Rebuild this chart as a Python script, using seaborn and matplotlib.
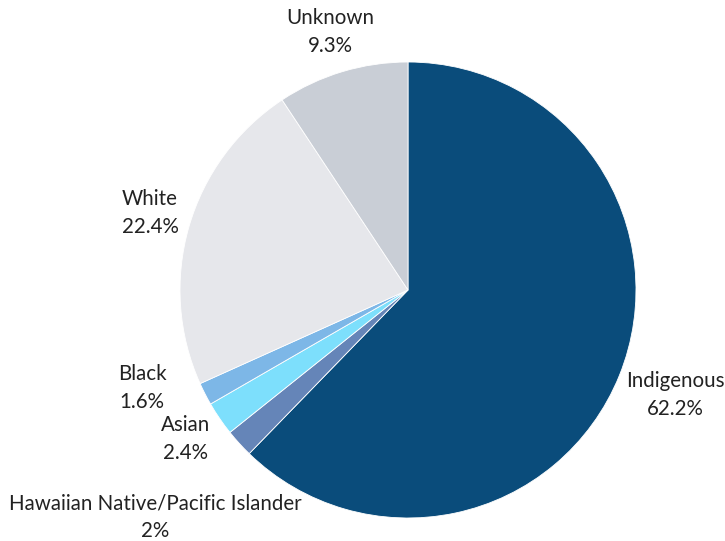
import matplotlib
matplotlib.use("Agg")
import matplotlib.pyplot as plt
import seaborn as sns

sns.set_theme(style="white")
plt.rcParams['font.family'] = ['Lato', 'DejaVu Sans']

categories = ["Indigenous", "Hawaiian Native/Pacific Islander", "Asian", "Black", "White", "Unknown"]
values = [62.2, 2.0, 2.4, 1.6, 22.4, 9.3]
value_labels = ["62.2%", "2%", "2.4%", "1.6%", "22.4%", "9.3%"]
colors = ["#0a4c7b", "#6585b8", "#7ddffc", "#7db7e7", "#e6e7eb", "#c9ced6"]

# label centers in pixel layout
cx, cy, R = 408, 290, 228
label_px = [(675, 395), (155, 517), (186, 439), (142, 388), (150, 213), (330, 32)]

fig = plt.figure(figsize=(7.25, 5.41), dpi=100)
ax = fig.add_axes([0, 0, 1, 1])
ax.pie(values, colors=colors, startangle=90, counterclock=False, radius=1,
       normalize=True,
       wedgeprops=dict(edgecolor="white", linewidth=0.6))
ax.set_xlim(-cx / R, (725 - cx) / R)
ax.set_ylim(-(541 - cy) / R, cy / R)
ax.set_aspect("equal")
ax.axis("off")

for cat, lab, (px, py) in zip(categories, value_labels, label_px):
    ax.text((px - cx) / R, (cy - py) / R, f"{cat}\n{lab}", ha="center", va="center",
            fontsize=14.8, color="#222222", linespacing=1.45)

fig.savefig("out.png", dpi=100)
